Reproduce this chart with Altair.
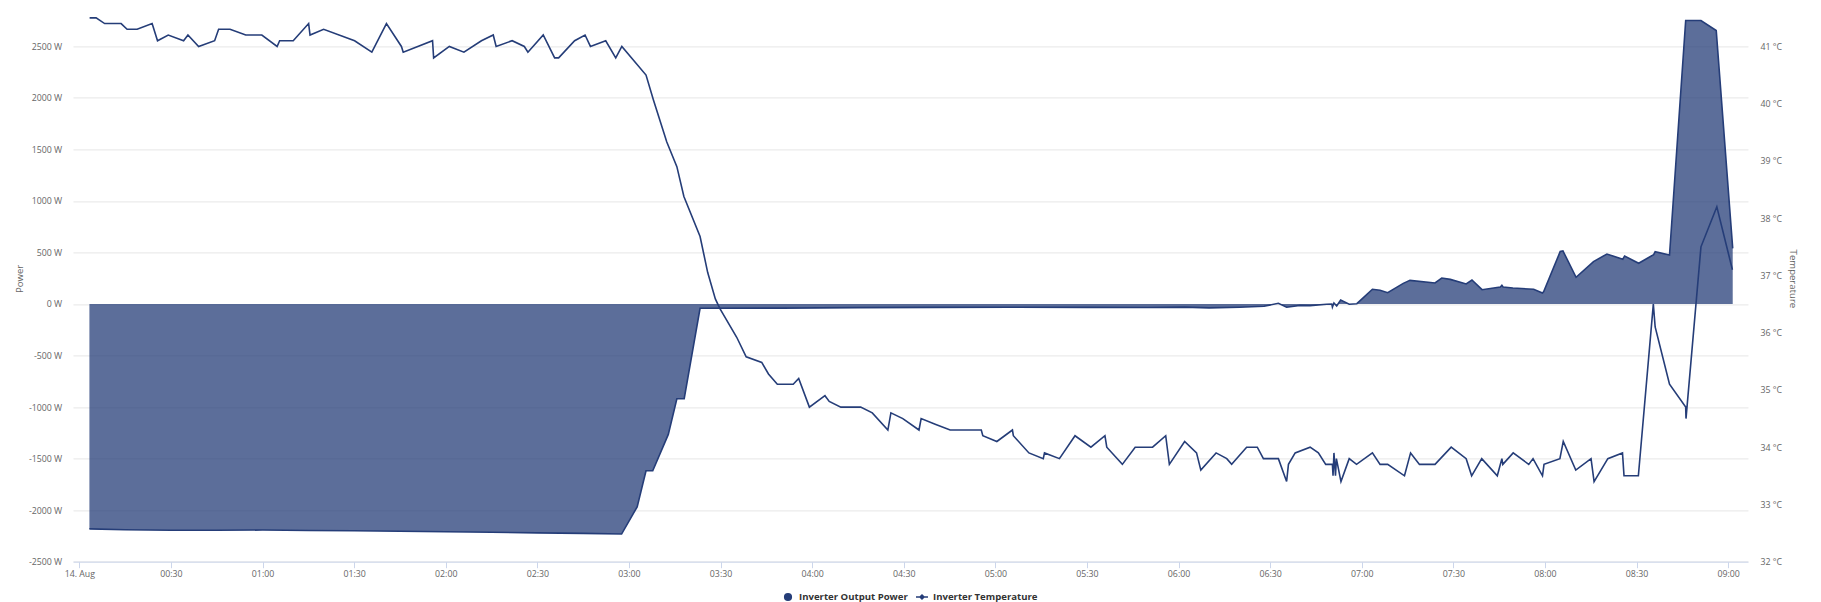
import altair as alt
import pandas as pd

NAVY = "#253d78"
BASE = pd.Timestamp("2024-08-14")

# ---- data (minutes after midnight, 14 Aug) ----
power_minutes = [3.3, 15, 30, 45, 60, 75, 90, 105, 120, 135,
                 150, 165, 177.6, 182.7, 185.6, 187.8, 192.9, 195.7, 198.1, 203.3,
                 230, 255, 280, 305, 330, 350, 362, 370, 380, 388,
                 392.7, 395.4, 399.7, 403.1, 408.5, 410.2, 410.4, 410.9, 411.8, 413.1,
                 415.9, 418.4, 423.5, 426.0, 428.5, 433.6, 435.8, 444.0, 446.2, 449.0,
                 454.2, 456.1, 459.4, 465.4, 465.9, 466.3, 469.5, 476.3, 479.2, 479.6,
                 485.0, 485.9, 490.2, 495.9, 500.3, 505.5, 506.1, 510.7, 515.6, 516.1,
                 520.8, 526.1, 531.1, 536.1, 541.5]
power_watts = [-2182, -2190, -2195, -2195, -2193, -2198, -2200, -2205, -2210, -2215,
               -2220, -2225, -2232, -1968, -1618, -1618, -1265, -919, -919, -42,
               -40, -35, -33, -32, -33, -34, -30, -38, -32, -22,
               7, -32, -13, -16, -3, 0, -30, 10, -19, 39,
               -3, 3, 143, 133, 110, 200, 229, 204, 252, 239,
               194, 233, 139, 165, 181, 165, 155, 143, 107, 120,
               509, 515, 259, 411, 485, 434, 466, 395, 479, 508,
               476, 2750, 2750, 2653, 540]

temp_minutes = [3.37, 5.50, 8.29, 13.69, 15.65, 18.93, 23.84, 25.61, 29.12, 34.16,
                35.57, 39.07, 44.31, 45.62, 49.36, 54.50, 59.77, 64.78, 65.60, 70.05,
                75.10, 75.56, 80.01, 90.16, 95.80, 100.58, 105.49, 106.08, 115.68, 116.04,
                121.18, 125.96, 131.69, 135.56, 136.51, 141.75, 145.74, 146.92, 151.93, 155.67,
                156.98, 162.22, 165.63, 167.39, 172.40, 175.68, 177.68,
                185.6, 188.0, 192.4, 195.7, 198.0, 203.3, 205.8, 208.3, 209.8, 215.3,
                218.4, 223.5, 225.7, 228.6, 233.8, 235.6, 239.1, 244.2, 245.6, 249.4,
                255.9, 259.7, 264.8, 265.8, 269.7,
                275.0, 275.7, 280.3, 285.2, 295.4, 295.9, 300.5, 305.6, 305.9, 311.0,
                315.7, 316.1, 321.0, 326.1, 331.3, 335.9, 336.5, 341.6, 345.8, 351.5,
                355.8, 357.0, 362.0, 365.9, 367.3, 372.3, 375.8, 377.4, 382.3, 385.8,
                387.8, 392.7, 395.4, 396.0, 398.2,
                403.1, 405.8, 408.2, 410.4, 410.6, 410.9, 411.4, 411.7, 413.2, 415.9,
                418.3, 423.5, 426.0, 428.5, 434.0, 436.0, 438.9, 444.0, 449.3, 454.2,
                456.0, 459.3, 464.4, 465.9, 466.2, 469.6, 474.7, 476.1, 479.2, 479.7,
                484.9, 486.0, 490.1, 495.1, 496.1, 500.6, 505.4, 505.9, 510.6, 515.5,
                516.1, 520.8, 526.1, 526.2, 531.1, 536.3, 541.4]
temp_celsius = [41.5, 41.5, 41.4, 41.4, 41.3, 41.3, 41.4, 41.1, 41.2, 41.1,
                41.2, 41.0, 41.1, 41.3, 41.3, 41.2, 41.2, 41.0, 41.1, 41.1,
                41.4, 41.2, 41.3, 41.1, 40.9, 41.4, 41.0, 40.9, 41.1, 40.8,
                41.0, 40.9, 41.1, 41.2, 41.0, 41.1, 41.0, 40.9, 41.2, 40.8,
                40.8, 41.1, 41.2, 41.0, 41.1, 40.8, 41.0,
                40.5, 40.07, 39.33, 38.9, 38.38, 37.68, 37.05, 36.59, 36.42, 35.92,
                35.58, 35.48, 35.28, 35.1, 35.1, 35.2, 34.7, 34.9, 34.8, 34.7,
                34.7, 34.6, 34.3, 34.6, 34.5,
                34.3, 34.5, 34.4, 34.3, 34.3, 34.2, 34.1, 34.3, 34.2, 33.9,
                33.8, 33.9, 33.8, 34.2, 34.0, 34.2, 34.0, 33.7, 34.0, 34.0,
                34.2, 33.7, 34.1, 33.9, 33.6, 33.9, 33.8, 33.7, 34.0, 34.0,
                33.8, 33.8, 33.4, 33.7, 33.9,
                34.0, 33.9, 33.7, 33.7, 33.5, 33.9, 33.5, 33.8, 33.4, 33.8,
                33.7, 33.9, 33.7, 33.7, 33.5, 33.9, 33.7, 33.7, 34.0, 33.8,
                33.5, 33.8, 33.5, 33.8, 33.7, 33.9, 33.7, 33.8, 33.5, 33.7,
                33.8, 34.1, 33.6, 33.8, 33.4, 33.8, 33.9, 33.5, 33.5, 36.5,
                36.1, 35.1, 34.7, 34.5, 37.5, 38.2, 37.1]

x_tick_labels = ["14. Aug", "00:30", "01:00", "01:30", "02:00", "02:30", "03:00",
                 "03:30", "04:00", "04:30", "05:00", "05:30", "06:00", "06:30",
                 "07:00", "07:30", "08:00", "08:30", "09:00"]
power_ticks = [-2500, -2000, -1500, -1000, -500, 0, 500, 1000, 1500, 2000, 2500]
temp_ticks = [32, 33, 34, 35, 36, 37, 38, 39, 40, 41]
series_names = ["Inverter Output Power", "Inverter Temperature"]

power_df = pd.DataFrame({
    "time": BASE + pd.to_timedelta(power_minutes, unit="m"),
    "power": power_watts,
    "series": series_names[0],
})
temp_df = pd.DataFrame({
    "time": BASE + pd.to_timedelta(temp_minutes, unit="m"),
    "temp": temp_celsius,
    "series": series_names[1],
})

tick_values = []
for lab in x_tick_labels:
    h, m = (0, 0) if lab == "14. Aug" else map(int, lab.split(":"))
    tick_values.append(alt.DateTime(year=2024, month=8, date=14, hours=h, minutes=m))

x_enc = alt.X(
    "time:T",
    title=None,
    scale=alt.Scale(domain=[
        alt.DateTime(year=2024, month=8, date=13, hours=23, minutes=57, seconds=56),
        alt.DateTime(year=2024, month=8, date=14, hours=9, minutes=6, seconds=30),
    ]),
    axis=alt.Axis(
        values=tick_values,
        labelExpr="timeFormat(datum.value, '%H:%M') == '00:00' ? '14. Aug' : timeFormat(datum.value, '%H:%M')",
        grid=False, tickSize=6, labelPadding=5.6, labelBaseline="middle",
        labelFlush=False, labelOverlap=False,
        domainColor="#ccd6eb", tickColor="#ccd6eb",
    ),
)

legend_common = dict(
    title=None, orient="none", legendY=571.6, direction="horizontal",
    symbolSize=144, labelOffset=4, padding=0,
    labelFont="Open Sans", labelFontSize=9.6, labelFontWeight="bold", labelColor="#333333",
    symbolFillColor=NAVY, symbolStrokeColor=NAVY, symbolStrokeWidth=1.6, symbolOpacity=1,
)
power_legend = alt.Legend(
    legendX=708,
    symbolType="M-0.55,0A0.55,0.55,0,1,0,0.55,0A0.55,0.55,0,1,0,-0.55,0Z",
    **legend_common,
)
temp_legend = alt.Legend(
    legendX=842,
    symbolType="M-1,0L1,0M0,-0.33L0.33,0L0,0.33L-0.33,0Z",
    **legend_common,
)

power_y = alt.Y(
    "power:Q",
    scale=alt.Scale(domain=[-2500, 2770.7], nice=False, zero=False),
    axis=alt.Axis(orient="left", values=power_ticks,
                  labelExpr="datum.value + ' W'", title="Power",
                  ticks=False, domain=False, grid=True, gridColor="#e6e6e6",
                  labelPadding=11.3, titleAngle=270, titleAlign="center",
                  titleBaseline="middle", titleX=-54, titleY=260),
)

power_area = alt.Chart(power_df).mark_area(fillOpacity=0.75).encode(
    x=x_enc,
    y=power_y,
    fill=alt.Fill("series:N",
                  scale=alt.Scale(domain=[series_names[0]], range=[NAVY]),
                  legend=power_legend),
)
power_edge = alt.Chart(power_df).mark_line(color=NAVY, strokeWidth=1.6).encode(
    x=x_enc,
    y=power_y,
)
power_layer = alt.layer(power_area, power_edge)

temp_line = alt.Chart(temp_df).mark_line(strokeWidth=1.6).encode(
    x=x_enc,
    y=alt.Y("temp:Q",
            scale=alt.Scale(domain=[32, 41.49], nice=False, zero=False),
            axis=alt.Axis(orient="right", values=temp_ticks,
                          labelExpr="datum.value + ' °C'", title="Temperature",
                          ticks=False, domain=False, grid=False,
                          labelPadding=12, titleAngle=90, titleAlign="center",
                          titleBaseline="middle", titleX=44.8, titleY=260)),
    stroke=alt.Stroke("series:N",
                      scale=alt.Scale(domain=[series_names[1]], range=[NAVY]),
                      legend=temp_legend),
)

chart = alt.layer(power_layer, temp_line).resolve_scale(y="independent").properties(
    width=1675, height=543.3,
    padding={"left": 65, "top": 10.4, "right": 60, "bottom": 44},
    autosize=alt.AutoSizeParams(type="none"),
).configure_view(strokeWidth=0).configure_axis(
    labelFont="Open Sans", labelFontSize=8.8, labelColor="#666666",
    titleFont="Open Sans", titleFontSize=9.6, titleColor="#666666",
    titleFontWeight="normal",
)

chart.save("out.html", embed_options={"renderer": "svg", "actions": False})
